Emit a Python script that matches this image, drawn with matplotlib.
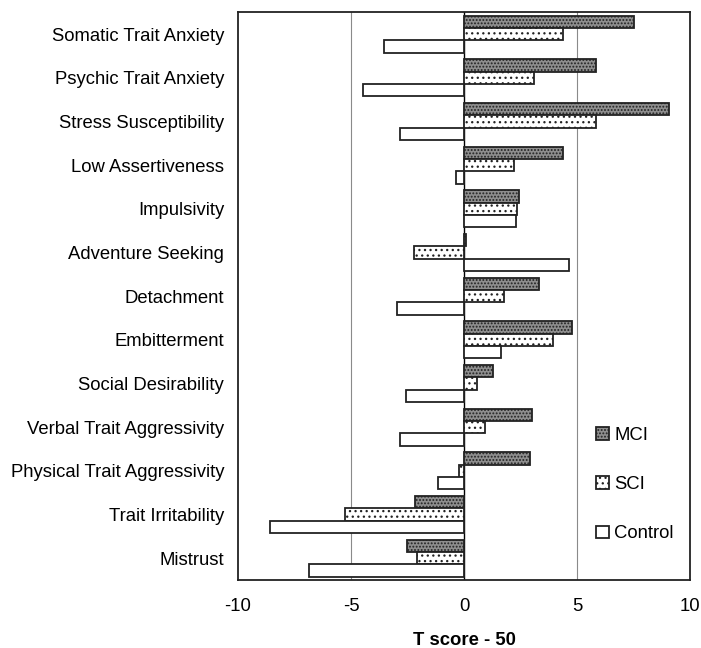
import numpy as np
import matplotlib
matplotlib.use('Agg')
import matplotlib.pyplot as plt

plt.rcParams['font.family'] = ['Liberation Sans', 'DejaVu Sans']
plt.rcParams['axes.unicode_minus'] = False
plt.rcParams['hatch.linewidth'] = 0.9

# --- dati ---
categorie = ['Somatic Trait Anxiety', 'Psychic Trait Anxiety', 'Stress Susceptibility',
             'Low Assertiveness', 'Impulsivity', 'Adventure Seeking', 'Detachment',
             'Embitterment', 'Social Desirability', 'Verbal Trait Aggressivity',
             'Physical Trait Aggressivity', 'Trait Irritability', 'Mistrust']
mci = [7.5, 5.84, 9.09, 4.37, 2.42, 0.1, 3.33, 4.79, 1.28, 2.99, 2.91, -2.17, -2.52]
sci = [4.37, 3.11, 5.84, 2.23, 2.35, -2.2, 1.78, 3.93, 0.57, 0.93, -0.22, -5.27, -2.08]
control = [-3.55, -4.47, -2.85, -0.34, 2.32, 4.66, -2.97, 1.64, -2.57, -2.82, -1.13, -8.6, -6.86]

fig = plt.figure(figsize=(7.01, 6.48), dpi=100)
ax = fig.add_axes([238 / 701, 1 - 580 / 648, 452 / 701, (580 - 12.3) / 648])

y = np.arange(len(categorie))
h = 0.284

ax.barh(y - h, mci, height=h, color='#8e8e8e', edgecolor='#222222', hatch='.....',
        linewidth=1.3, label='MCI', zorder=3)
ax.barh(y, sci, height=h, color='white', edgecolor='#222222', hatch='...',
        linewidth=1.3, label='SCI', zorder=3)
ax.barh(y + h, control, height=h, color='white', edgecolor='#222222',
        linewidth=1.3, label='Control', zorder=3)

ax.set_xlim(-10, 10)
ax.set_ylim(len(categorie) - 0.5, -0.5)
ax.set_xticks([-10, -5, 0, 5, 10])
ax.set_yticks(y)
ax.set_yticklabels(categorie)
ax.tick_params(axis='both', length=0, labelsize=13.3)
ax.tick_params(axis='y', pad=10)
ax.tick_params(axis='x', pad=13)

for xv in [-5, 5]:
    ax.axvline(xv, color='#8a8a8a', linewidth=0.8, zorder=1)
ax.axvline(0, color='black', linewidth=1.0, zorder=2)

for s in ax.spines.values():
    s.set_linewidth(1.3)
    s.set_color('#222222')

ax.set_xlabel('T score - 50', fontsize=13.3, fontweight='bold', labelpad=12)

ax.legend(loc='center left', bbox_to_anchor=(0.792, 0.168), frameon=False,
          fontsize=13.3, labelspacing=1.75, handlelength=0.7, handleheight=0.7,
          handletextpad=0.3, borderpad=0, borderaxespad=0)

fig.savefig('out.png', dpi=100)
